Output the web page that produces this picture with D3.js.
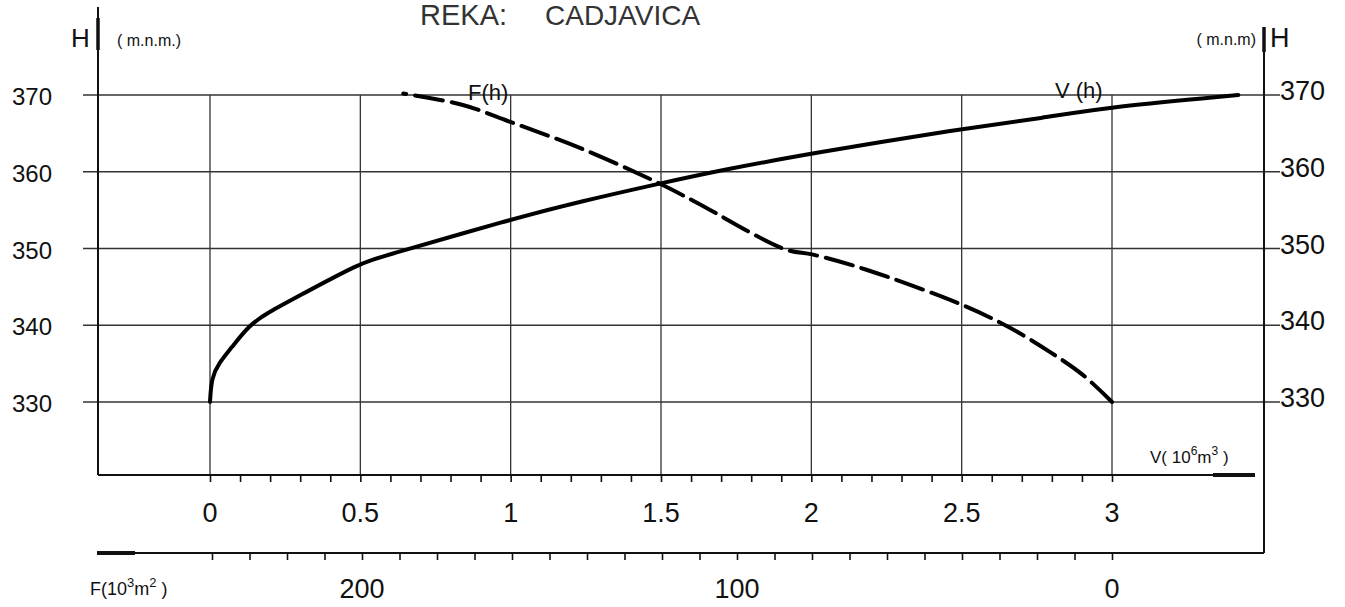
<!DOCTYPE html>
<html lang="sr">
<meta charset="UTF-8">
<style>
    body{ margin:0; background:#fff; }
    text{ font-family:"Liberation Sans", Arial, sans-serif; fill:#111; }
    .grid line{ stroke:#333; stroke-width:1.3; }
    .frame{ stroke:#111; stroke-width:2; fill:none; }
    .tick-axis .domain{ display:none; }
    .tick-axis line{ stroke:#111; stroke-width:1.6; }
</style>
<body>
<div id="chart"></div>
<script src="https://cdn.jsdelivr.net/npm/d3@7"></script>
<script>
    // values
    var hTicks = [330, 340, 350, 360, 370];
    var vMajor = [0, 0.5, 1, 1.5, 2, 2.5, 3];
    var vLabels = ["0", "0.5", "1", "1.5", "2", "2.5", "3"];
    var fMajor = [0, 100, 200];
    var fLabels = ["0", "100", "200"];

    // V(h) volume curve, 10^6 m3
    var volV = [0, 0.005, 0.03, 0.07, 0.13, 0.19, 0.3, 0.5, 0.57, 1.0, 1.23, 1.5, 1.7, 2.0, 2.5, 2.77, 3.0, 3.42];
    var volH = [330, 333.2, 335.1, 337, 340, 341.6, 343.9, 348.1, 348.9, 353.8, 356.1, 358.5, 360.2, 362.4, 365.6, 367, 368.5, 370];

    // F(h) area curve, 10^3 m2
    var areaF = [0, 7.7, 16.5, 27.7, 39.7, 65.3, 79.7, 87.2, 111.2, 120.8, 141.9, 160.5, 173.1, 189];
    var areaH = [330, 333.5, 336.5, 339.8, 342.6, 347.2, 349.2, 349.9, 356.1, 358.5, 363.1, 366.5, 368.7, 370.2];

    var width = 1345, height = 607;
    var leftAxisX = 98, rightAxisX = 1264;
    var vAxisY = 475, fAxisY = 553;

    var svg = d3.select("#chart").append("svg")
        .attr("width", width)
        .attr("height", height);

    var x = d3.scaleLinear().domain([0, 3]).range([210, 1112]);      // V
    var xf = d3.scaleLinear().domain([0, 200]).range([1112, 362]);   // F
    var y = d3.scaleLinear().domain([330, 370]).range([402, 95]);    // H

    // grid
    var grid = svg.append("g").attr("class", "grid");
    grid.selectAll("line.h")
        .data(hTicks)
        .enter().append("line")
        .attr("class", "h")
        .attr("x1", leftAxisX - 15).attr("x2", rightAxisX + 16)
        .attr("y1", function(d){ return y(d); })
        .attr("y2", function(d){ return y(d); });
    grid.selectAll("line.v")
        .data(vMajor)
        .enter().append("line")
        .attr("class", "v")
        .attr("x1", function(d){ return x(d); })
        .attr("x2", function(d){ return x(d); })
        .attr("y1", y(370)).attr("y2", vAxisY);

    // frame lines
    svg.append("line").attr("class", "frame")
        .attr("x1", leftAxisX).attr("x2", leftAxisX).attr("y1", 7).attr("y2", vAxisY);
    svg.append("line").attr("class", "frame")
        .attr("x1", leftAxisX).attr("x2", leftAxisX).attr("y1", 18).attr("y2", 50)
        .style("stroke-width", 3.5);
    svg.append("line").attr("class", "frame")
        .attr("x1", rightAxisX).attr("x2", rightAxisX).attr("y1", 27).attr("y2", fAxisY);
    svg.append("line").attr("class", "frame")
        .attr("x1", rightAxisX).attr("x2", rightAxisX).attr("y1", 27).attr("y2", 52)
        .style("stroke-width", 3.5);
    svg.append("line").attr("class", "frame")
        .attr("x1", leftAxisX).attr("x2", 1255).attr("y1", vAxisY).attr("y2", vAxisY);
    svg.append("line").attr("class", "frame")
        .attr("x1", 1213).attr("x2", 1255).attr("y1", vAxisY).attr("y2", vAxisY)
        .style("stroke-width", 4);
    svg.append("line").attr("class", "frame")
        .attr("x1", leftAxisX - 1).attr("x2", rightAxisX).attr("y1", fAxisY).attr("y2", fAxisY);
    svg.append("line").attr("class", "frame")
        .attr("x1", leftAxisX - 1).attr("x2", 135).attr("y1", fAxisY).attr("y2", fAxisY)
        .style("stroke-width", 4);

    // minor ticks on V and F axes
    svg.append("g")
        .attr("class", "tick-axis")
        .attr("transform", "translate(0," + vAxisY + ")")
        .call(d3.axisBottom(x).tickValues(d3.range(0, 31).map(function(i){ return i / 10; }))
            .tickSize(7).tickFormat(""));
    svg.append("g")
        .attr("class", "tick-axis")
        .attr("transform", "translate(0," + fAxisY + ")")
        .call(d3.axisBottom(xf).tickValues(d3.range(0, 25).map(function(i){ return i * 10; }))
            .tickSize(7).tickFormat(""));

    // V labels
    svg.selectAll("text.vlab")
        .data(vMajor)
        .enter().append("text")
        .attr("class", "vlab")
        .attr("x", function(d){ return x(d); })
        .attr("y", 522)
        .attr("text-anchor", "middle")
        .style("font-size", "27px")
        .text(function(d, i){ return vLabels[i]; });

    // F labels
    svg.selectAll("text.flab")
        .data(fMajor)
        .enter().append("text")
        .attr("class", "flab")
        .attr("x", function(d){ return xf(d); })
        .attr("y", 598)
        .attr("text-anchor", "middle")
        .style("font-size", "27px")
        .text(function(d, i){ return fLabels[i]; });

    // H labels both sides
    svg.selectAll("text.hl")
        .data(hTicks)
        .enter().append("text")
        .attr("class", "hl")
        .attr("x", 52)
        .attr("y", function(d){ return y(d) + 10; })
        .attr("text-anchor", "end")
        .style("font-size", "24px")
        .text(function(d){ return d; });
    svg.selectAll("text.hr")
        .data(hTicks)
        .enter().append("text")
        .attr("class", "hr")
        .attr("x", 1280)
        .attr("y", function(d){ return y(d) + 5; })
        .style("font-size", "27px")
        .text(function(d){ return d; });

    // curves
    var vLine = d3.line()
        .x(function(d){ return x(d[0]); })
        .y(function(d){ return y(d[1]); })
        .curve(d3.curveBasis);
    svg.append("path")
        .datum(d3.zip(volV, volH))
        .attr("d", vLine)
        .attr("fill", "none")
        .attr("stroke", "#000")
        .attr("stroke-width", 4)
        .attr("stroke-linecap", "round");

    var fLine = d3.line()
        .x(function(d){ return xf(d[0]); })
        .y(function(d){ return y(d[1]); })
        .curve(d3.curveCatmullRom.alpha(0.5));
    svg.append("path")
        .datum(d3.zip(areaF, areaH))
        .attr("d", fLine)
        .attr("fill", "none")
        .attr("stroke", "#000")
        .attr("stroke-width", 4)
        .attr("stroke-dasharray", "28,9")
        .attr("stroke-linecap", "round");

    // titles and labels
    svg.append("text").attr("x", 420).attr("y", 25)
        .style("font-size", "29px").style("fill", "#333").text("REKA:");
    svg.append("text").attr("x", 545).attr("y", 25)
        .style("font-size", "28px").style("fill", "#333").text("CADJAVICA");

    svg.append("text").attr("x", 71).attr("y", 47).style("font-size", "26px").text("H");
    svg.append("text").attr("x", 117).attr("y", 46).style("font-size", "16px").text("( m.n.m.)");
    svg.append("text").attr("x", 1270).attr("y", 47).style("font-size", "27px").text("H");
    svg.append("text").attr("x", 1256).attr("y", 45).attr("text-anchor", "end")
        .style("font-size", "16px").text("( m.n.m)");

    svg.append("text").attr("x", 468).attr("y", 100).style("font-size", "22px").text("F(h)");
    svg.append("text").attr("x", 1055).attr("y", 98).style("font-size", "22px").text("V (h)");

    var vlab = svg.append("text").attr("x", 1150).attr("y", 463).style("font-size", "17px");
    vlab.append("tspan").text("V( 10");
    vlab.append("tspan").attr("dy", -8).style("font-size", "12px").text("6");
    vlab.append("tspan").attr("dy", 8).text("m");
    vlab.append("tspan").attr("dy", -8).style("font-size", "12px").text("3");
    vlab.append("tspan").attr("dy", 8).text(" )");

    var flab = svg.append("text").attr("x", 90).attr("y", 595).style("font-size", "18px");
    flab.append("tspan").text("F(10");
    flab.append("tspan").attr("dy", -8).style("font-size", "13px").text("3");
    flab.append("tspan").attr("dy", 8).text("m");
    flab.append("tspan").attr("dy", -8).style("font-size", "13px").text("2");
    flab.append("tspan").attr("dy", 8).text(" )");
</script>
</body>
</html>
